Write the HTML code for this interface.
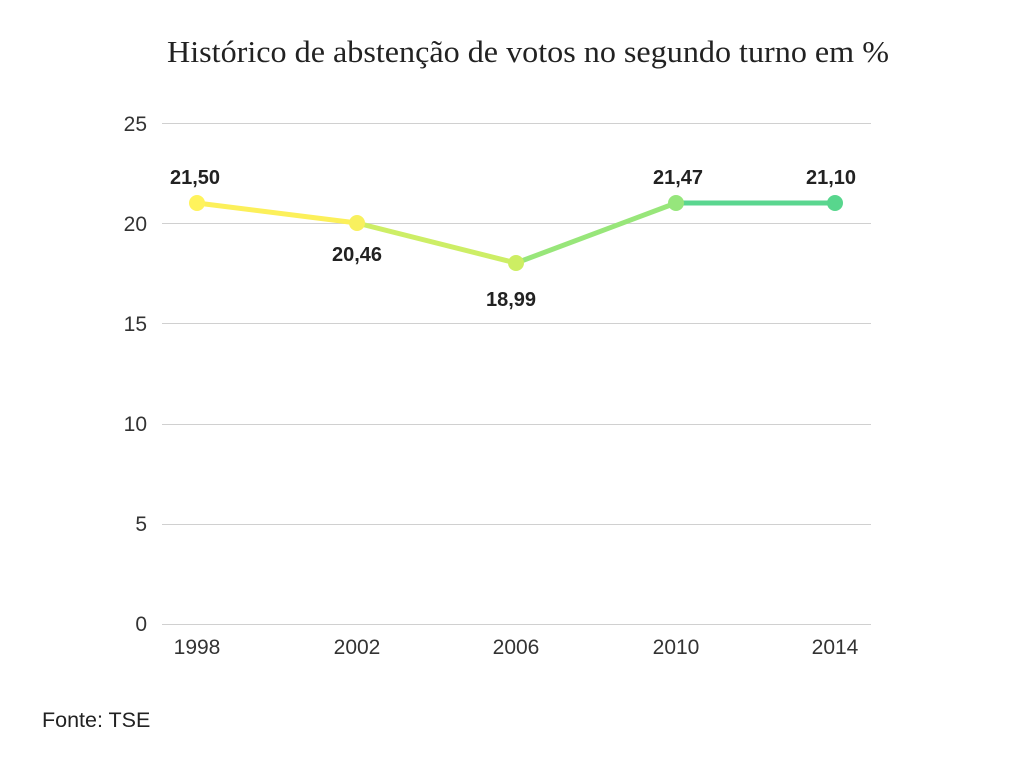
<!DOCTYPE html>
<html><head><meta charset="utf-8"><style>body{margin:0;background:#fff}</style></head><body>
<svg width="1024" height="768" xmlns="http://www.w3.org/2000/svg">
<rect width="1024" height="768" fill="#fff"/>
<text x="167" y="62" textLength="722" lengthAdjust="spacingAndGlyphs" font-family="Liberation Serif, serif" font-size="31" fill="#222">Histórico de abstenção de votos no segundo turno em %</text>
<g stroke="#d0d0d0" stroke-width="1">
<line x1="162" x2="871" y1="123.5" y2="123.5"/><line x1="162" x2="871" y1="223.5" y2="223.5"/>
<line x1="162" x2="871" y1="323.5" y2="323.5"/><line x1="162" x2="871" y1="424.5" y2="424.5"/>
<line x1="162" x2="871" y1="524.5" y2="524.5"/><line x1="162" x2="871" y1="624.5" y2="624.5"/>
</g>
<g font-family="Liberation Sans, sans-serif" font-size="21" fill="#333" text-anchor="end">
<text x="147" y="131">25</text><text x="147" y="231">20</text><text x="147" y="331">15</text>
<text x="147" y="431">10</text><text x="147" y="531">5</text><text x="147" y="631">0</text>
</g>
<g font-family="Liberation Sans, sans-serif" font-size="21" fill="#333" text-anchor="middle">
<text x="197" y="654">1998</text><text x="357" y="654">2002</text><text x="516" y="654">2006</text>
<text x="676" y="654">2010</text><text x="835" y="654">2014</text>
</g>
<g stroke-width="5" stroke-linecap="round">
<line x1="197" y1="203" x2="357" y2="223" stroke="#fcf05a"/>
<line x1="357" y1="223" x2="516" y2="263" stroke="#cdee66"/>
<line x1="516" y1="263" x2="676" y2="203" stroke="#98e67a"/>
<line x1="676" y1="203" x2="835" y2="203" stroke="#5ad68f"/>
</g>
<circle cx="197" cy="203" r="8" fill="#fff35c"/>
<circle cx="357" cy="223" r="8" fill="#f8f05e"/>
<circle cx="516" cy="263" r="8" fill="#cdee63"/>
<circle cx="676" cy="203" r="8" fill="#96e67c"/>
<circle cx="835" cy="203" r="8" fill="#58d68d"/>
<g font-family="Liberation Sans, sans-serif" font-size="20" font-weight="bold" fill="#222" text-anchor="middle">
<text x="195" y="184">21,50</text><text x="357" y="261">20,46</text><text x="511" y="306">18,99</text>
<text x="678" y="184">21,47</text><text x="831" y="184">21,10</text>
</g>
<text x="42" y="727" font-family="Liberation Sans, sans-serif" font-size="21.5" fill="#222">Fonte: TSE</text>
</svg>
</body></html>
